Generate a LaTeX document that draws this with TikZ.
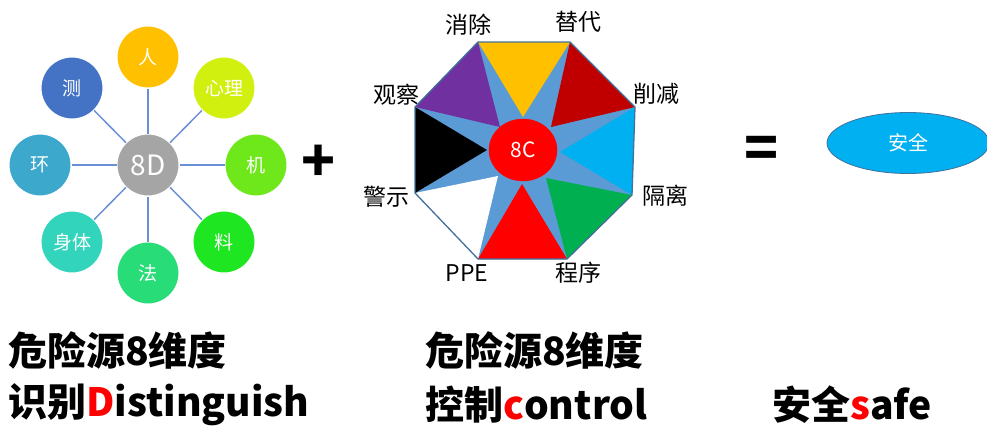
\documentclass[tikz,border=0pt]{standalone}
\usepackage{fontspec}
\setmainfont{Noto Sans CJK SC}
\usetikzlibrary{shapes.geometric}
\definecolor{gray8d}{HTML}{A5A5A5}
\definecolor{spokeblue}{HTML}{6A8FD6}
\definecolor{cRen}{HTML}{FFC000}
\definecolor{cXin}{HTML}{D2F00F}
\definecolor{cJi}{HTML}{6EE81A}
\definecolor{cLiao}{HTML}{1EE620}
\definecolor{cFa}{HTML}{28DC78}
\definecolor{cShen}{HTML}{33D4BC}
\definecolor{cHuan}{HTML}{3BA8CC}
\definecolor{cCe}{HTML}{4472C4}
\definecolor{octblue}{HTML}{5B9BD5}
\definecolor{octline}{HTML}{41719C}
\definecolor{cYel}{HTML}{FFC000}
\definecolor{cDred}{HTML}{C00000}
\definecolor{cCyan}{HTML}{00B0F0}
\definecolor{cGreen}{HTML}{00B050}
\definecolor{cRed}{HTML}{FF0000}
\definecolor{cPurple}{HTML}{7030A0}
\begin{document}
\begin{tikzpicture}[x=1pt,y=-1pt,
  petal/.style={circle,minimum size=62pt,inner sep=0pt,draw=white,line width=1pt,text=white,font=\fontsize{19}{19}\selectfont},
  spoke/.style={draw=spokeblue,line width=1.5pt},
  olabel/.style={font=\fontsize{23}{23}\selectfont,text=black,inner sep=0pt},
  bigtext/.style={font=\bfseries\fontsize{39}{39}\selectfont,anchor=west,inner sep=0pt}]
\useasboundingbox (0,0) rectangle (987,426);
% left wheel
\node[petal,fill=gray8d,font=\fontsize{28}{28}\selectfont] (c8d) at (148,165) {8D};
\node[petal,fill=cRen]   (ren)  at (148,57)  {人};
\node[petal,fill=cXin]   (xin)  at (224,88)  {心理};
\node[petal,fill=cJi]    (ji)   at (256,165) {机};
\node[petal,fill=cLiao]  (liao) at (224,242) {料};
\node[petal,fill=cFa]    (fa)   at (148,273) {法};
\node[petal,fill=cShen]  (shen) at (72,242)  {身体};
\node[petal,fill=cHuan]  (huan) at (40,165)  {环};
\node[petal,fill=cCe]    (ce)   at (72,88)   {测};
\foreach \p in {ren,xin,ji,liao,fa,shen,huan,ce}
  \draw[spoke] (c8d) -- (\p);
% plus
\node[font=\bfseries\fontsize{56}{56}\selectfont,inner sep=0pt] (plus) at (319,163) {+};
% octagon
\coordinate (v1) at (478,42);
\coordinate (v2) at (570,42);
\coordinate (v3) at (635,107);
\coordinate (v4) at (632,195);
\coordinate (v5) at (567,259);
\coordinate (v6) at (478,259);
\coordinate (v7) at (415,193);
\coordinate (v8) at (415,107);
\coordinate (a1) at (523,117);
\coordinate (a2) at (551,127);
\coordinate (a3) at (560,152);
\coordinate (a4) at (546,178);
\coordinate (a5) at (522,184);
\coordinate (a6) at (498,176);
\coordinate (a7) at (487,150);
\coordinate (a8) at (500,127);
\fill[octblue] (v1)--(v2)--(v3)--(v4)--(v5)--(v6)--(v7)--(v8)--cycle;
\fill[cYel]    (v1)--(v2)--(a1)--cycle;
\fill[cDred]   (v2)--(v3)--(a2)--cycle;
\fill[cCyan]   (v3)--(v4)--(a3)--cycle;
\fill[cGreen]  (v4)--(v5)--(a4)--cycle;
\fill[cRed]    (v5)--(v6)--(a5)--cycle;
\fill[white]   (v6)--(v7)--(a6)--cycle;
\fill[black]   (v7)--(v8)--(a7)--cycle;
\fill[cPurple] (v8)--(v1)--(a8)--cycle;
\draw[octline,line width=1.3pt,line join=round] (v1)--(v2)--(v3)--(v4)--(v5)--(v6)--(v7)--(v8)--cycle;
\node[ellipse,fill=cRed,draw=cRed,minimum width=68pt,minimum height=62pt,inner sep=0pt,text=white,font=\fontsize{21}{21}\selectfont] (c8c) at (523,150) {8C};
\node[olabel] (l1) at (468,25)  {消除};
\node[olabel] (l2) at (578,22)  {替代};
\node[olabel] (l3) at (656,94)  {削减};
\node[olabel] (l4) at (665,196) {隔离};
\node[olabel] (l5) at (578,273) {程序};
\node[olabel] (l6) at (467,273) {PPE};
\node[olabel] (l7) at (386,197) {警示};
\node[olabel] (l8) at (396,95)  {观察};
% equals
\node[font=\bfseries\fontsize{56}{56}\selectfont,inner sep=0pt] (eq) at (762,152) {=};
% safe ellipse
\node[ellipse,fill=cCyan,draw=octline,line width=0.8pt,minimum width=162pt,minimum height=61pt,inner sep=0pt,text=white,font=\fontsize{20}{20}\selectfont] (safe) at (908,143) {安全};
% bottom texts
\node[bigtext] (t1) at (8,350) {危险源8维度};
\node[bigtext] (t2) at (8,405) {识别{\color{red}D}istinguish};
\node[bigtext] (t3) at (425,350) {危险源8维度};
\node[bigtext] (t4) at (425,405) {控制{\color{red}c}ontrol};
\node[bigtext] (t5) at (772,405) {安全{\color{red}s}afe};
\end{tikzpicture}
\end{document}
